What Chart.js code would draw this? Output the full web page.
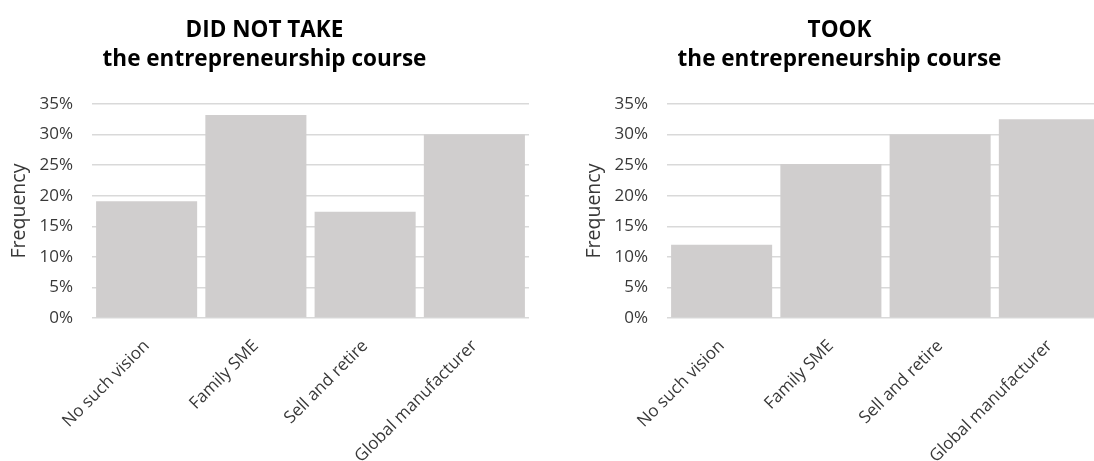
<!DOCTYPE html>
<html>
<head>
<meta charset="utf-8">
<script src="https://cdn.jsdelivr.net/npm/chart.js@4.4.1/dist/chart.umd.min.js"></script>
<style>
  html, body { margin: 0; padding: 0; background: #fff; width: 1094px; height: 461px; overflow: hidden; }
  .clip { position: absolute; top: 0; height: 461px; overflow: hidden; }
</style>
</head>
<body>
<div class="clip" style="left:0px; width:547px"><canvas id="c1" width="530" height="461"></canvas></div>
<div class="clip" style="left:575px; width:519px"><canvas id="c2" width="530" height="461"></canvas></div>
<script>
const categories = ['No such vision', 'Family SME', 'Sell and retire', 'Global manufacturer'];
const didNotTake = [19.1, 33.2, 17.4, 30.0];
const took = [12.0, 25.2, 30.0, 32.5];
const titleDidNotTake = ['DID NOT TAKE', 'the entrepreneurship course'];
const titleTook = ['TOOK', 'the entrepreneurship course'];
const yTicks = [0, 5, 10, 15, 20, 25, 30, 35];
const yAxisTitle = 'Frequency';

const FONT = '"Open Sans", Lato, sans-serif';
const TXT = '#383838';

function makeChart(id, titleLines, values) {
  return new Chart(document.getElementById(id), {
    type: 'bar',
    data: {
      labels: categories,
      datasets: [{
        data: values,
        backgroundColor: '#D0CECE',
        borderWidth: 0,
        barPercentage: 0.925,
        categoryPercentage: 1.0
      }]
    },
    options: {
      responsive: false,
      devicePixelRatio: 1,
      animation: false,
      layout: { padding: { left: 0, right: 1, top: 0, bottom: 0 } },
      plugins: {
        legend: { display: false },
        tooltip: { enabled: false },
        title: {
          display: true,
          text: titleLines,
          color: '#000',
          font: { family: FONT, size: 22.5, weight: 'bold', lineHeight: 1.29 },
          padding: { top: 16.5, bottom: 29.5 }
        }
      },
      scales: {
        x: {
          grid: { display: false },
          border: { display: false },
          ticks: {
            autoSkip: false,
            minRotation: 45,
            maxRotation: 45,
            padding: 10,
            color: TXT,
            font: { family: FONT, size: 17 }
          },
          afterFit: (s) => { s.height = 143; }
        },
        y: {
          min: 0,
          max: 35,
          afterBuildTicks: (s) => { s.ticks = yTicks.map(v => ({ value: v })); },
          grid: { color: '#D9D9D9', lineWidth: 1.5, drawTicks: false },
          border: { display: false },
          ticks: {
            padding: 19,
            color: TXT,
            font: { family: FONT, size: 17 },
            callback: (v) => v + '%'
          },
          title: {
            display: true,
            text: yAxisTitle,
            color: TXT,
            font: { family: FONT, size: 19.5 },
            padding: { top: 8, bottom: 0 }
          },
          afterFit: (s) => { s.width = 92; }
        }
      }
    }
  });
}

makeChart('c1', titleDidNotTake, didNotTake);
makeChart('c2', titleTook, took);
</script>
</body>
</html>
